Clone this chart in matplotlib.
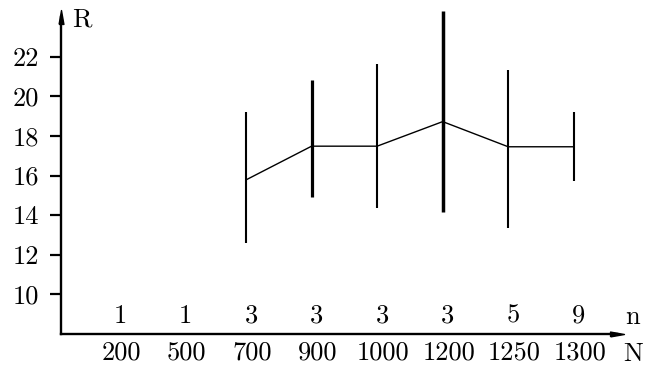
import matplotlib
matplotlib.use("Agg")
import matplotlib.pyplot as plt

# ---- data ----
N_labels = ["200", "500", "700", "900", "1000", "1200", "1250", "1300"]
n_counts = ["1", "1", "3", "3", "3", "3", "5", "9"]
R_N = ["700", "900", "1000", "1200", "1250", "1300"]
R_mean = [15.78, 17.48, 17.48, 18.72, 17.45, 17.45]
R_low = [12.59, 14.94, 14.37, 14.14, 13.33, 15.71]
R_high = [19.19, 20.84, 21.63, 24.30, 21.35, 19.19]
y_ticks = [10, 12, 14, 16, 18, 20, 22]

# ---- styles ----
bar_widths = [1.5, 2.3, 1.5, 2.5, 1.5, 1.5]
FONT = "cmr10"
FS = 19

W, H = 646, 369
fig = plt.figure(figsize=(W / 100, H / 100), dpi=100)
left_px, right_px, bot_px, top_px = 61, 617, 334, 17
ax = fig.add_axes([left_px / W, 1 - bot_px / H, (right_px - left_px) / W, (bot_px - top_px) / H])

xpos = {lab: i for i, lab in enumerate(N_labels)}
ax.set_xlim(-0.824, 7.66)
ax.set_ylim(8, 24)

xs = [xpos[k] for k in R_N]
ax.plot(xs, R_mean, color="black", lw=1.0, clip_on=False, zorder=3)
for x, lo, hi, w in zip(xs, R_low, R_high, bar_widths):
    ax.plot([x, x], [lo, hi], color="black", lw=w, clip_on=False, solid_capstyle="butt", zorder=4)

# spines / axes
for s in ["top", "right"]:
    ax.spines[s].set_visible(False)
for s in ["left", "bottom"]:
    ax.spines[s].set_linewidth(1.7)
ax.set_xticks([])
ax.set_yticks(y_ticks)
ax.set_yticklabels([str(t) for t in y_ticks], fontfamily=FONT, fontsize=FS)
ax.tick_params(axis="y", direction="out", length=8, width=1.6, pad=8)

# slim arrowheads
up_head = [(-0.35, -1.0), (0.0, 1.0), (0.35, -1.0), (-0.35, -1.0)]
right_head = [(-1.0, -0.35), (1.0, 0.0), (-1.0, 0.35), (-1.0, -0.35)]
ax.plot([0], [1], marker=up_head, markersize=10, color="black", transform=ax.transAxes, clip_on=False)
ax.plot([1], [0], marker=right_head, markersize=10, color="black", transform=ax.transAxes, clip_on=False)

# axis names
ax.annotate("R", xy=(0, 1), xycoords="axes fraction", xytext=(11, -3), textcoords="offset pixels",
            ha="left", va="center", fontfamily=FONT, fontsize=FS)
ax.annotate("n", xy=(1, 0), xycoords="axes fraction", xytext=(16, 17), textcoords="offset pixels",
            ha="center", va="center", fontfamily=FONT, fontsize=FS)
ax.annotate("N", xy=(1, 0), xycoords="axes fraction", xytext=(16, -20), textcoords="offset pixels",
            ha="center", va="center", fontfamily=FONT, fontsize=FS)

# category labels
for lab, cnt in zip(N_labels, n_counts):
    x = xpos[lab]
    ax.annotate(cnt, xy=(x, 0), xycoords=("data", "axes fraction"), xytext=(5, 18),
                textcoords="offset pixels", ha="center", va="center", fontfamily=FONT, fontsize=FS)
    ax.annotate(lab, xy=(x, 0), xycoords=("data", "axes fraction"), xytext=(6, -19),
                textcoords="offset pixels", ha="center", va="center", fontfamily=FONT, fontsize=FS)

fig.savefig("out.png", dpi=100)
